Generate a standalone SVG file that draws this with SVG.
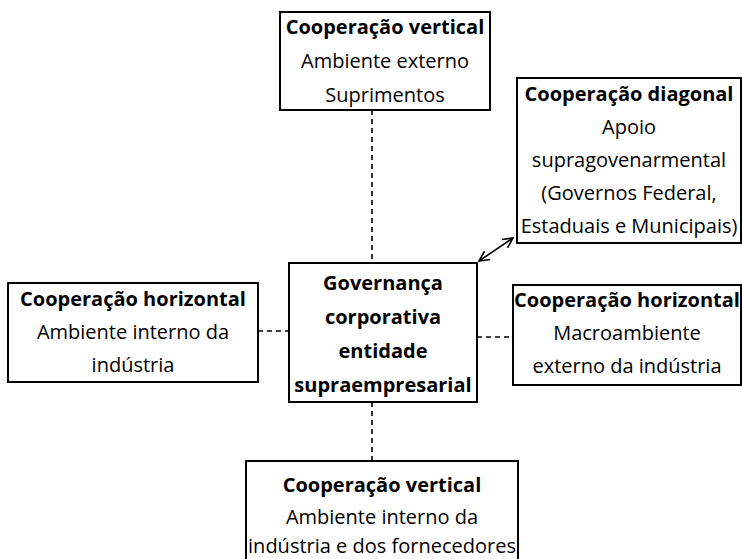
<svg xmlns="http://www.w3.org/2000/svg" width="742" height="559" viewBox="0 0 742 559">
<defs>
<style>
.box{fill:#fff;stroke:#000;stroke-width:2}
text{font-family:"Open Sans","Liberation Sans",sans-serif;font-size:20px;text-anchor:middle;fill:#000}
.b{font-weight:bold}
.dash{stroke:#000;stroke-width:1.6;stroke-dasharray:5,4;fill:none}
.arr{stroke:#000;stroke-width:1.6;fill:none}
</style>
<marker id="ah" viewBox="0 0 12 12" refX="11" refY="6" markerWidth="12" markerHeight="12" markerUnits="userSpaceOnUse" orient="auto-start-reverse">
<path d="M1,1 L11,6 L1,11" fill="none" stroke="#000" stroke-width="1.6"/>
</marker>
</defs>
<g id="connectors">
<line class="dash" x1="372" y1="110" x2="372" y2="263"/>
<line class="dash" x1="372" y1="402" x2="372" y2="461"/>
<line class="dash" x1="258" y1="331" x2="289" y2="331"/>
<line class="dash" x1="477" y1="337" x2="513" y2="337"/>
<line class="arr" x1="479" y1="261" x2="513" y2="238" marker-start="url(#ah)" marker-end="url(#ah)"/>
</g>
<g id="top">
<rect class="box" x="280" y="12" width="210" height="98"/>
<text class="b" x="385" y="34">Cooperação vertical</text>
<text x="385" y="68">Ambiente externo</text>
<text x="385" y="102">Suprimentos</text>
</g>
<g id="diagonal">
<rect class="box" x="517" y="78" width="224" height="165"/>
<text class="b" x="629" y="101">Cooperação diagonal</text>
<text x="629" y="134">Apoio</text>
<text x="629" y="167">supragovenarmental</text>
<text x="629" y="200">(Governos Federal,</text>
<text x="629" y="233">Estaduais e Municipais)</text>
</g>
<g id="left">
<rect class="box" x="8" y="283" width="250" height="99"/>
<text class="b" x="133" y="306">Cooperação horizontal</text>
<text x="133" y="339">Ambiente interno da</text>
<text x="133" y="372">indústria</text>
</g>
<g id="center">
<rect class="box" x="289" y="263" width="188" height="139"/>
<text class="b" x="383" y="290">Governança</text>
<text class="b" x="383" y="324">corporativa</text>
<text class="b" x="383" y="358">entidade</text>
<text class="b" x="383" y="392">supraempresarial</text>
</g>
<g id="right">
<rect class="box" x="513" y="285" width="228" height="100"/>
<text class="b" x="627" y="307">Cooperação horizontal</text>
<text x="627" y="340">Macroambiente</text>
<text x="627" y="373">externo da indústria</text>
</g>
<g id="bottom">
<rect class="box" x="246" y="461" width="272" height="110"/>
<text class="b" x="382" y="492">Cooperação vertical</text>
<text x="382" y="524">Ambiente interno da</text>
<text x="382" y="553">indústria e dos fornecedores</text>
</g>
</svg>
